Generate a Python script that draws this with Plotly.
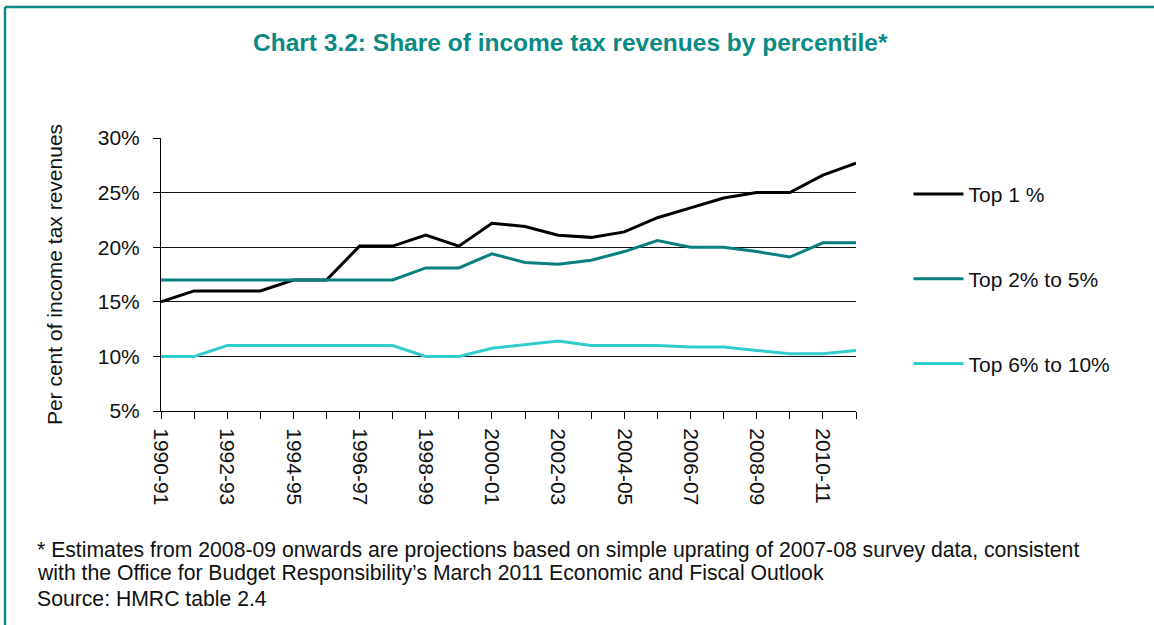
import plotly.graph_objects as go

years = ["1990-91", "1991-92", "1992-93", "1993-94", "1994-95", "1995-96", "1996-97",
         "1997-98", "1998-99", "1999-00", "2000-01", "2001-02", "2002-03", "2003-04",
         "2004-05", "2005-06", "2006-07", "2007-08", "2008-09", "2009-10", "2010-11", "2011-12"]

top_1 = [15.0, 16.0, 16.0, 16.0, 17.0, 17.0, 20.1, 20.1, 21.1, 20.1, 22.2, 21.9,
         21.1, 20.9, 21.4, 22.7, 23.6, 24.5, 25.0, 25.0, 26.6, 27.7]
top_2_5 = [17.0, 17.0, 17.0, 17.0, 17.0, 17.0, 17.0, 17.0, 18.1, 18.1, 19.4, 18.6,
           18.45, 18.8, 19.6, 20.6, 20.0, 20.0, 19.6, 19.1, 20.4, 20.4]
top_6_10 = [10.0, 10.0, 11.0, 11.0, 11.0, 11.0, 11.0, 11.0, 10.0, 10.0, 10.75, 11.1,
            11.4, 11.0, 11.0, 11.0, 10.85, 10.85, 10.55, 10.25, 10.25, 10.55]

series_names = ["Top 1 %", "Top 2% to 5%", "Top 6% to 10%"]
series_values = [top_1, top_2_5, top_6_10]
series_colors = ["#000000", "#0A7F7F", "#33CCCC"]

y_ticks = [5, 10, 15, 20, 25, 30]
y_tick_labels = ["5%", "10%", "15%", "20%", "25%", "30%"]

FONT = "Liberation Sans, Arial, sans-serif"
TEXT = "#111111"
TEAL = "#0A8A84"

x_idx = list(range(len(years)))

fig = go.Figure()
for i, (name, vals, col) in enumerate(zip(series_names, series_values, series_colors)):
    fig.add_trace(go.Scatter(
        x=x_idx, y=vals, name=name, mode="lines",
        line=dict(color=col, width=3),
        legendgroup=f"g{i}",
    ))

fig.update_layout(
    width=1154, height=625,
    margin=dict(l=161, r=298, t=138, b=214),
    paper_bgcolor="white", plot_bgcolor="white",
    font=dict(family=FONT, size=21, color=TEXT),
    showlegend=True,
    legend=dict(
        x=1.0755, y=0.869, xanchor="left", yanchor="top",
        traceorder="grouped", tracegroupgap=54.5,
        itemwidth=50, font=dict(size=21, color=TEXT, family=FONT),
        bgcolor="rgba(0,0,0,0)",
    ),
    xaxis=dict(
        range=[0, 21], tickmode="array",
        tickvals=x_idx[::2], ticktext=years[::2],
        tickangle=90, ticks="outside", ticklen=7, tickcolor="black", tickwidth=1,
        ticklabelstandoff=5,
        minor=dict(dtick=1, tick0=0, ticks="outside", ticklen=7, tickcolor="black", tickwidth=1, showgrid=False),
        showline=True, linecolor="black", linewidth=1,
        showgrid=False, zeroline=False,
        tickfont=dict(size=21, color=TEXT, family=FONT),
    ),
    yaxis=dict(
        range=[5, 30], tickmode="array", tickvals=y_ticks, ticktext=y_tick_labels,
        ticks="outside", ticklen=7, tickcolor="black", tickwidth=1,
        ticklabelstandoff=9,
        showline=True, linecolor="black", linewidth=1,
        showgrid=True, gridcolor="#111111", gridwidth=1,
        zeroline=False,
        tickfont=dict(size=21, color=TEXT, family=FONT),
        title=dict(text="Per cent of income tax revenues", font=dict(size=21, color=TEXT, family=FONT), standoff=29),
    ),
)

# Title
fig.add_annotation(
    text="<b>Chart 3.2: Share of income tax revenues by percentile*</b>",
    xref="paper", yref="paper", x=(570 - 161) / 695, y=(411 - 43) / 273,
    xanchor="center", yanchor="middle", showarrow=False,
    font=dict(size=24.5, color=TEAL, family=FONT),
)

# Footnotes
notes = [
    ("* Estimates from 2008-09 onwards are projections based on simple uprating of 2007-08 survey data, consistent", 550),
    ("with the Office for Budget Responsibility\u2019s March 2011 Economic and Fiscal Outlook", 573),
    ("Source: HMRC table 2.4", 598),
]
for txt, py in notes:
    fig.add_annotation(
        text=txt, xref="paper", yref="paper",
        x=(35 - 161) / 695, y=(411 - py) / 273,
        xanchor="left", yanchor="middle", showarrow=False,
        font=dict(size=21.2, color=TEXT, family=FONT),
    )

# Frame lines (teal) on left and top
fig.add_shape(type="line", xref="paper", yref="paper",
              x0=(5 - 161) / 695, x1=(1170 - 161) / 695,
              y0=(411 - 7) / 273, y1=(411 - 7) / 273,
              line=dict(color=TEAL, width=2.5))
fig.add_shape(type="line", xref="paper", yref="paper",
              x0=(5 - 161) / 695, x1=(5 - 161) / 695,
              y0=(411 - 7) / 273, y1=(411 - 640) / 273,
              line=dict(color=TEAL, width=2.5))

fig.write_html("out.html", config={"displayModeBar": False},
               post_script="document.body.style.margin='0';")
